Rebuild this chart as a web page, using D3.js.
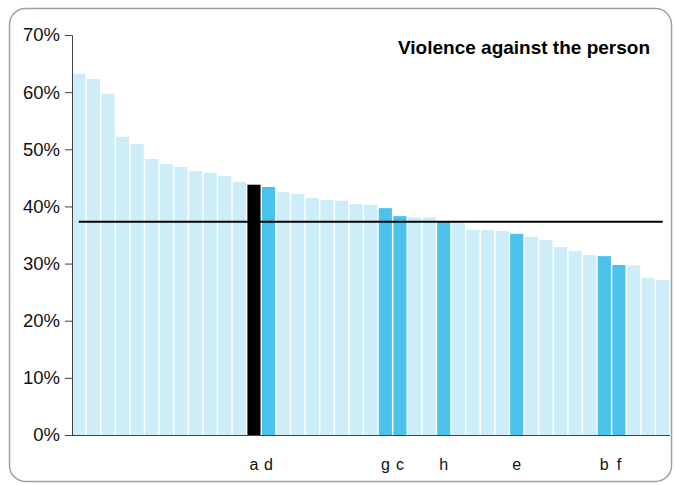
<!DOCTYPE html>
<html><head><meta charset="utf-8">
<script src="https://cdn.jsdelivr.net/npm/d3@7"></script>
<style>html,body{margin:0;padding:0;background:#fff;}svg{display:block;font-family:"Liberation Sans",Arial,sans-serif;}</style>
</head><body>
<svg id="c" width="675" height="485"></svg>
<script>
const title = "Violence against the person";
const values = [63.2,62.3,59.7,52.2,50.9,48.3,47.4,46.9,46.2,45.9,45.3,44.3,43.8,43.4,42.5,42.2,41.5,41.1,41.0,40.4,40.3,39.7,38.3,38.1,38.1,37.4,37.2,35.9,35.9,35.7,35.2,34.7,34.1,32.9,32.2,31.5,31.3,29.75,29.7,27.5,27.1];
const highlightIndex = [12,13,21,22,25,30,36,37];
const highlightLabels = ["a","d","g","c","h","e","b","f"];
const blackIndex = [12];
const average = 37.3;
const yTicks = [0,10,20,30,40,50,60,70];

const svg = d3.select("#c");
svg.append("rect").attr("x",9.5).attr("y",8.5).attr("width",662).attr("height",473)
  .attr("rx",16).attr("fill","#fff").attr("stroke","#a0a0a0").attr("stroke-width",1.5);

const idx = values.map((v,i)=>i);
const x = d3.scaleBand().domain(idx).range([71.5,670]).paddingInner(0.1).paddingOuter(0.05);
const y = d3.scaleLinear().domain([0,70]).range([435,35]);

const colorOf = i => blackIndex.includes(i) ? "#000" : (highlightIndex.includes(i) ? "#4ac2ec" : "#cdedf9");

svg.append("g").selectAll("rect").data(values).join("rect")
  .attr("x",(d,i)=>x(i)).attr("width",x.bandwidth())
  .attr("y",d=>y(d)).attr("height",d=>y(0)-y(d))
  .attr("fill",(d,i)=>colorOf(i));

// average line
svg.append("line")
  .attr("x1",x(0)+x.bandwidth()/2).attr("x2",x(values.length-1)+x.bandwidth()/2)
  .attr("y1",y(average)).attr("y2",y(average))
  .attr("stroke","#000").attr("stroke-width",2);

// y axis
const yAxis = d3.axisLeft(y).tickValues(yTicks).tickFormat(d=>d+"%").tickSize(7).tickPadding(5);
const gy = svg.append("g").attr("transform","translate(72,0)").call(yAxis);
gy.select(".domain").attr("stroke","#444");
gy.selectAll(".tick line").attr("stroke","#444");
gy.selectAll("text").attr("font-size",18.5).attr("fill","#111").attr("font-family","Liberation Sans, Arial, sans-serif");

// x axis line
svg.append("line").attr("x1",72).attr("x2",670).attr("y1",435.5).attr("y2",435.5).attr("stroke","#444").attr("stroke-width",1);

// labels
svg.append("g").selectAll("text").data(highlightIndex).join("text")
  .attr("x",i=>x(i)+x.bandwidth()/2).attr("y",470)
  .attr("text-anchor","middle").attr("font-size",16).attr("fill","#111")
  .text((d,k)=>highlightLabels[k]);

svg.append("text").attr("x",650).attr("y",54).attr("text-anchor","end")
  .attr("font-size",19).attr("font-weight","bold").attr("fill","#000").text(title);
</script>
</body></html>
